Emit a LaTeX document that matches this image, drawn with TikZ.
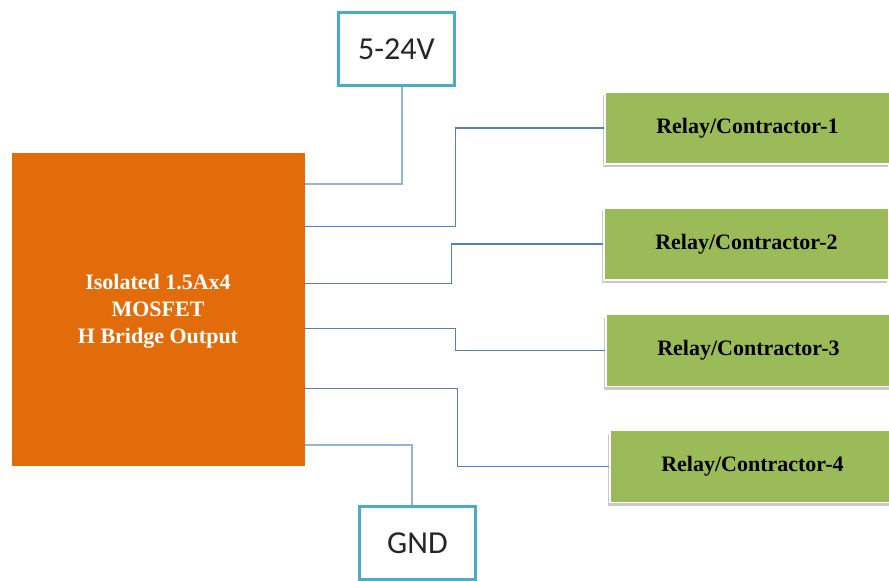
\documentclass[tikz,border=0pt]{standalone}
\usepackage{fontspec}
\setmainfont{Liberation Serif}
\newfontfamily\calfont{Carlito}
\usetikzlibrary{shadows}
\definecolor{orng}{HTML}{E36C0A}
\definecolor{grn}{HTML}{9BBB59}
\definecolor{teal1}{HTML}{4BACC6}
\definecolor{pwr}{HTML}{95B3D7}
\definecolor{wire}{HTML}{4F81BD}
\tikzset{
  mainbox/.style={fill=orng, draw=none, minimum width=293pt, minimum height=313pt, inner sep=0pt,
    text=white, font=\fontsize{22}{27}\selectfont\bfseries, align=center},
  supply/.style={draw=teal1, line width=2.6pt, fill=white, minimum width=116pt, minimum height=73pt,
    inner sep=0pt, font=\calfont\fontsize{32}{36}\selectfont, text=black!85},
  relay/.style={fill=grn, draw=white, line width=1.2pt, minimum width=285pt, minimum height=72pt,
    inner sep=0pt, font=\fontsize{22}{26}\selectfont\bfseries,
    drop shadow={shadow xshift=-2pt, shadow yshift=-3pt, opacity=0.35, fill=black!60}},
  pline/.style={draw=pwr, line width=2pt},
  rline/.style={draw=wire, line width=1.2pt}
}
\begin{document}
\begin{tikzpicture}[x=1pt,y=-1pt]
\useasboundingbox (0,0) rectangle (889,581);
\fill[white] (0,0) rectangle (889,581);
\node[mainbox] (o) at (158.5,309.5) {};
\node[text=white, font=\fontsize{22}{27}\selectfont\bfseries, align=center] (ot) at (158,311) {Isolated 1.5Ax4\\MOSFET\\H Bridge Output};
\node[supply] (v) at (396.5,49) {5-24V};
\node[supply] (g) at (417.5,543) {GND};
\node[relay] (r1) at (747.5,128) {Relay/Contractor-1};
\node[relay] (r2) at (746.5,244) {Relay/Contractor-2};
\node[relay] (r3) at (748.5,350.5) {Relay/Contractor-3};
\node[relay] (r4) at (752.5,466.5) {Relay/Contractor-4};
\draw[pline] ([xshift=5.5pt]v.south) |- ([yshift=-31pt]o.north east);
\draw[pline] ([xshift=-5.5pt]g.north) |- ([yshift=-292pt]o.north east);
\draw[rline] ([yshift=-74pt]o.north east) -- ++(150,0) |- (r1.west);
\draw[rline] ([yshift=-131pt]o.north east) -- ++(146,0) |- (r2.west);
\draw[rline] ([yshift=-176pt]o.north east) -- ++(150,0) |- (r3.west);
\draw[rline] ([yshift=-236pt]o.north east) -- ++(152,0) |- (r4.west);
\end{tikzpicture}
\end{document}
